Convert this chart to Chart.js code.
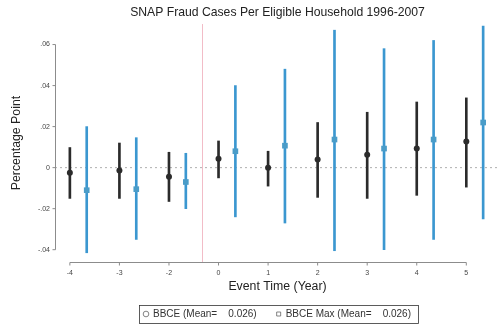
<!DOCTYPE html>
<html>
<head>
<meta charset="utf-8">
<script src="https://cdn.jsdelivr.net/npm/chart.js@4.4.1/dist/chart.umd.min.js"></script>
<style>
  body { margin: 0; background: #fff; }
  #wrap { width: 504px; height: 324px; }
</style>
</head>
<body>
<div id="wrap"><canvas id="chart" width="504" height="324"></canvas></div>
<script>
// event time categories (year -1 omitted)
const xLabels = ['-4', '-3', '-2', '0', '1', '2', '3', '4', '5'];
const yTicks = [-0.04, -0.02, 0, 0.02, 0.04, 0.06];

// BBCE estimates and 95% bands
const bbce   = [-0.0025, -0.0014, -0.0045, 0.0043, 0.0000, 0.0040, 0.0063, 0.0093, 0.0127];
const bbceLo = [-0.0150, -0.0150, -0.0165, -0.0050, -0.0090, -0.0145, -0.0150, -0.0135, -0.0095];
const bbceHi = [0.0098, 0.0120, 0.0075, 0.0130, 0.0080, 0.0220, 0.0270, 0.0320, 0.0340];

// BBCE Max estimates and 95% bands
const bbceMax   = [-0.0110, -0.0105, -0.0070, 0.0080, 0.0107, 0.0137, 0.0093, 0.0137, 0.0220];
const bbceMaxLo = [-0.0415, -0.0350, -0.0200, -0.0240, -0.0270, -0.0405, -0.0400, -0.0350, -0.0250];
const bbceMaxHi = [0.0200, 0.0146, 0.0070, 0.0400, 0.0480, 0.0670, 0.0580, 0.0620, 0.0690];

const legendText = ['BBCE (Mean=    0.026)', 'BBCE Max (Mean=    0.026)'];

const maxOffset = 0.34;   // BBCE Max drawn a bit right of each tick
const eventLine = 2.66;   // treatment line between -2 and 0

const blue = '#3b97d0';
const dark = '#2b2b2b';
const legendPad = 20;

function pts(vals, off) {
  return vals.map((v, i) => ({ x: i + off, y: v }));
}
function bands(lo, hi, off) {
  return lo.map((v, i) => ({ x: i + off, y: [v, hi[i]] }));
}
function fmtY(v) {
  if (Math.abs(v) < 1e-9) return '0';
  return v.toFixed(2).replace('0.', '.');
}

const axesPlugin = {
  id: 'stataAxes',
  beforeLayout(chart) {
    // keep the legend strip short, Stata style
    const lg = chart.legend;
    if (lg && !lg._short) {
      const fit = lg.fit;
      lg.fit = function () { fit.call(this); this.height = 20; };
      lg._short = true;
    }
  },
  afterLayout(chart) {
    // big horizontal padding between items, but keep the row low
    chart.legend.top -= legendPad - 5;
  },
  beforeDatasetsDraw(chart) {
    const { ctx, chartArea } = chart;
    const xs = chart.scales.x, ys = chart.scales.y;
    ctx.save();
    ctx.strokeStyle = '#9a9a9a';
    ctx.lineWidth = 0.8;
    ctx.setLineDash([2, 3]);
    ctx.beginPath();
    ctx.moveTo(chartArea.left, ys.getPixelForValue(0));
    ctx.lineTo(chartArea.right, ys.getPixelForValue(0));
    ctx.stroke();
    ctx.setLineDash([]);
    ctx.strokeStyle = '#f2bcc7';
    ctx.lineWidth = 1;
    const ex = Math.round(xs.getPixelForValue(eventLine)) + 0.5;
    ctx.beginPath();
    ctx.moveTo(ex, chartArea.top);
    ctx.lineTo(ex, chartArea.bottom);
    ctx.stroke();
    ctx.restore();
  },
  afterDraw(chart) {
    const { ctx, chartArea } = chart;
    const xs = chart.scales.x, ys = chart.scales.y;
    ctx.save();
    ctx.strokeStyle = '#8c8c8c';
    ctx.lineWidth = 1;
    const ax = chartArea.left + 0.5;
    ctx.beginPath();
    ctx.moveTo(ax, ys.getPixelForValue(yTicks[yTicks.length - 1]));
    ctx.lineTo(ax, ys.getPixelForValue(yTicks[0]));
    yTicks.forEach(v => {
      const py = ys.getPixelForValue(v);
      ctx.moveTo(ax - 3, py);
      ctx.lineTo(ax, py);
    });
    ctx.stroke();
    const ay = chartArea.bottom + 0.5;
    ctx.beginPath();
    ctx.moveTo(xs.getPixelForValue(0), ay);
    ctx.lineTo(xs.getPixelForValue(xLabels.length - 1), ay);
    xLabels.forEach((l, i) => {
      const px = xs.getPixelForValue(i);
      ctx.moveTo(px, ay);
      ctx.lineTo(px, ay + 3);
    });
    ctx.stroke();
    // legend frame
    const boxes = chart.legend.legendHitBoxes;
    if (boxes && boxes.length) {
      const l = Math.min(...boxes.map(b => b.left)) - 5;
      const r = Math.max(...boxes.map(b => b.left + b.width)) + 7;
      const t = Math.min(...boxes.map(b => b.top)) - 4;
      const b = Math.max(...boxes.map(b => b.top + b.height)) + 4;
      ctx.strokeStyle = '#333';
      ctx.lineWidth = 0.8;
      ctx.strokeRect(Math.round(l) + 0.5, Math.round(t) + 0.5, Math.round(r - l), Math.round(b - t));
    }
    ctx.restore();
  }
};

new Chart(document.getElementById('chart'), {
  type: 'bar',
  data: {
    datasets: [
      { type: 'bar', data: bands(bbceLo, bbceHi, 0), backgroundColor: dark,
        barThickness: 2, grouped: false, order: 2 },
      { type: 'bar', data: bands(bbceMaxLo, bbceMaxHi, maxOffset), backgroundColor: blue,
        barThickness: 2, grouped: false, order: 2, clip: false },
      { type: 'line', label: legendText[0], data: pts(bbce, 0), showLine: false,
        pointStyle: 'circle', pointRadius: 3, backgroundColor: dark, borderColor: dark,
        borderWidth: 0, order: 0 },
      { type: 'line', label: legendText[1], data: pts(bbceMax, maxOffset), showLine: false,
        pointStyle: 'rect', pointRadius: 4, backgroundColor: '#4a9cc8', borderColor: '#4a9cc8',
        borderWidth: 0, order: 0, clip: false }
    ]
  },
  options: {
    responsive: false,
    animation: false,
    layout: { padding: 0 },
    scales: {
      x: {
        type: 'linear', min: -0.3, max: 8.68, offset: false,
        grid: { display: false, drawTicks: false }, border: { display: false },
        afterBuildTicks: s => { s.ticks = xLabels.map((l, i) => ({ value: i })); },
        afterFit: s => { s.height = 42; },
        ticks: { callback: v => xLabels[v], color: '#444', padding: 7, maxRotation: 0,
                 font: { family: 'Liberation Sans', size: 7 } },
        title: { display: true, text: 'Event Time (Year)', color: '#222',
                 padding: { top: 9.6, bottom: 9.6 }, font: { family: 'Liberation Sans', size: 12.3 } }
      },
      y: {
        min: -0.046, max: 0.07,
        grid: { display: false, drawTicks: false }, border: { display: false },
        afterBuildTicks: s => { s.ticks = yTicks.map(v => ({ value: v })); },
        afterFit: s => { s.width = 55; },
        ticks: { callback: v => fmtY(v), color: '#444', padding: 5,
                 font: { family: 'Liberation Sans', size: 7 } },
        title: { display: true, text: 'Percentage Point', color: '#222',
                 padding: { top: 9.5, bottom: 9.5 }, font: { family: 'Liberation Sans', size: 12.3 } }
      }
    },
    plugins: {
      tooltip: { enabled: false },
      title: {
        display: true, fullSize: false,
        text: 'SNAP Fraud Cases Per Eligible Household 1996-2007',
        color: '#222', padding: { top: 5, bottom: 4.4 },
        font: { family: 'Liberation Sans', size: 12.2, weight: 'normal' }
      },
      legend: {
        position: 'bottom', fullSize: false,
        labels: {
          usePointStyle: true, boxWidth: 4, boxHeight: 4, padding: legendPad, color: '#333',
          font: { family: 'Liberation Sans', size: 10 },
          filter: item => item.datasetIndex >= 2,
          generateLabels: chart => Chart.defaults.plugins.legend.labels.generateLabels(chart)
            .map(it => Object.assign(it, { fillStyle: '#fff', strokeStyle: '#666', lineWidth: 0.8 }))
        }
      }
    }
  },
  plugins: [axesPlugin]
});
</script>
</body>
</html>
